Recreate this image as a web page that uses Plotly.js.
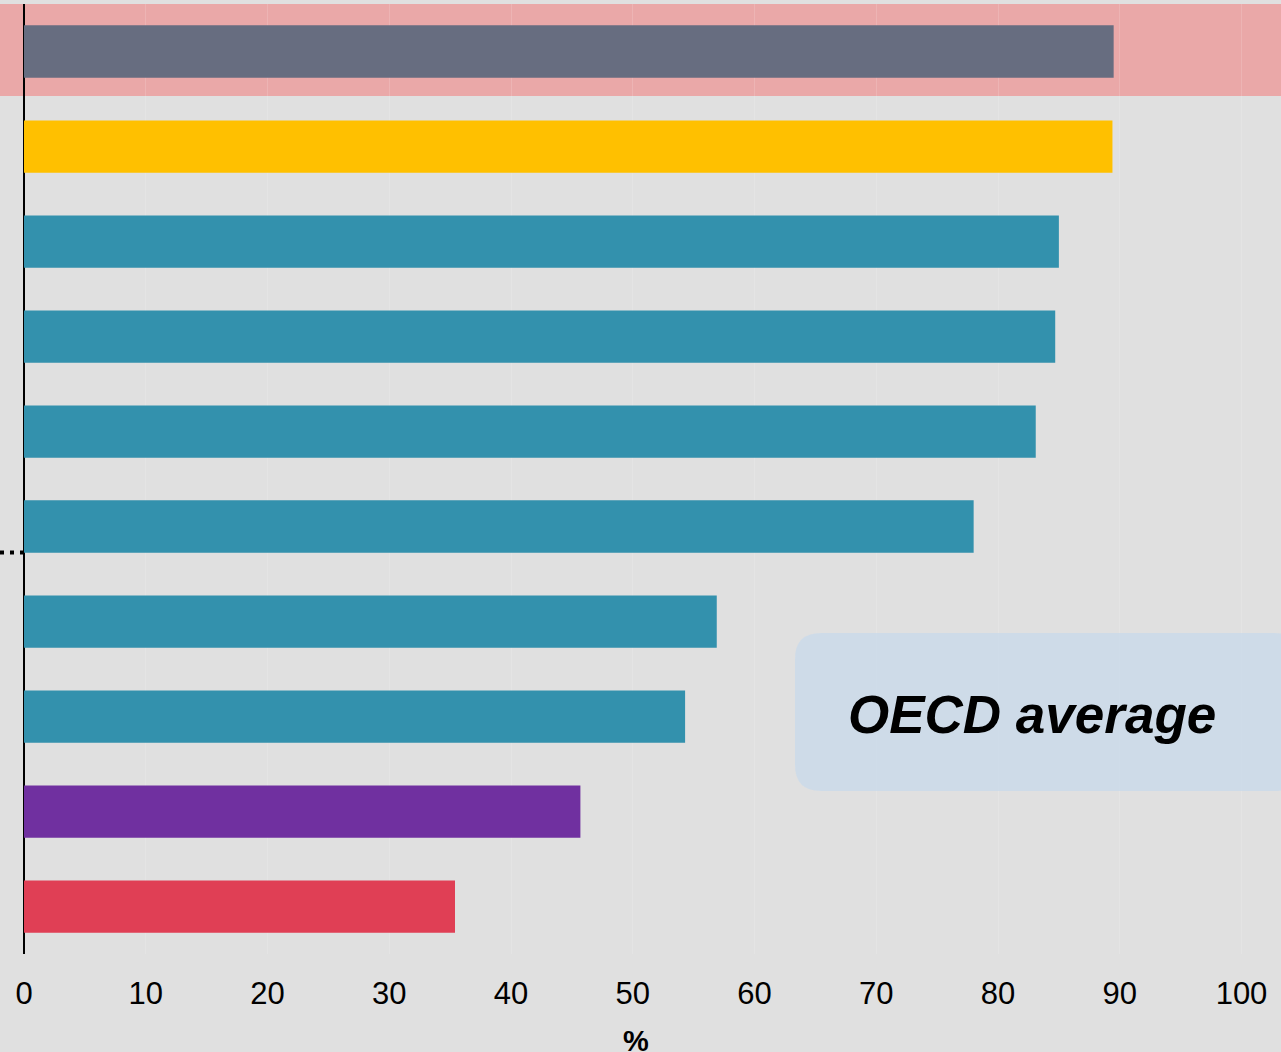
<!DOCTYPE html>
<html>
<head>
<meta charset="utf-8">
<script src="https://cdn.plot.ly/plotly-3.0.1.min.js"></script>
<style>html,body{margin:0;padding:0;background:#e0e0e0;}#chart{width:1281px;height:1052px;}</style>
</head>
<body>
<div id="chart"></div>
<script>
// Data (top to bottom)
var categories = ["Item 1","Item 2","Item 3","Item 4","Item 5","Item 6","Item 7","Item 8","Item 9","Item 10"];
var values = [89.5, 89.4, 85.0, 84.7, 83.1, 78.0, 56.9, 54.3, 45.7, 35.4];
var barColors = ["#676d80","#ffc000","#3391ad","#3391ad","#3391ad","#3391ad","#3391ad","#3391ad","#7030a0","#e03f55"];
var xTickVals = [0,10,20,30,40,50,60,70,80,90,100];
var xTitle = "%";
var boxLabel = "OECD average";

var W = 1281, H = 1052;
var mL = 24, mR = 0, mT = 4, mB = 98;
var pw = W - mL - mR, ph = H - mT - mB;
function px(x){ return (x - mL) / pw; }
function py(y){ return (H - mB - y) / ph; }

// rounded box path in paper coords
var bx0 = 795, bx1 = 1300, by0 = 633, by1 = 791, r = 26;
function P(x,y){ return px(x) + "," + py(y); }
var boxPath = "M" + P(bx0 + r, by0) + " L" + P(bx1 - r, by0) + " Q" + P(bx1, by0) + " " + P(bx1, by0 + r) +
  " L" + P(bx1, by1 - r) + " Q" + P(bx1, by1) + " " + P(bx1 - r, by1) +
  " L" + P(bx0 + r, by1) + " Q" + P(bx0, by1) + " " + P(bx0, by1 - r) +
  " L" + P(bx0, by0 + r) + " Q" + P(bx0, by0) + " " + P(bx0 + r, by0) + " Z";

var trace = {
  type: "bar",
  orientation: "h",
  y: categories,
  x: values,
  width: 0.55,
  marker: {color: barColors, line: {width: 0}},
  hoverinfo: "x+y"
};

var layout = {
  width: W, height: H,
  margin: {l: mL, r: mR, t: mT, b: mB},
  paper_bgcolor: "#e0e0e0",
  plot_bgcolor: "rgba(0,0,0,0)",
  showlegend: false,
  font: {family: "Liberation Sans, Arial, sans-serif", color: "#000"},
  xaxis: {
    range: [0, pw / 12.175],
    tickvals: xTickVals,
    ticktext: xTickVals.map(String),
    tickfont: {size: 31, color: "#000"},
    showgrid: true,
    gridcolor: "rgba(255,255,255,0.14)",
    gridwidth: 1,
    zeroline: true,
    zerolinecolor: "#000",
    zerolinewidth: 2.5,
    ticks: "",
    ticklabelstandoff: 18,
    fixedrange: true
  },
  yaxis: {
    autorange: "reversed",
    showticklabels: false,
    showgrid: false,
    zeroline: false,
    ticks: "",
    fixedrange: true
  },
  shapes: [
    {type: "rect", xref: "paper", yref: "paper", layer: "below",
     x0: px(0), x1: px(W), y0: py(96), y1: py(4),
     fillcolor: "#eaa8a8", line: {width: 0}},
    {type: "path", xref: "paper", yref: "paper", layer: "above",
     path: boxPath, fillcolor: "rgba(200,218,235,0.75)", line: {width: 0}},
    {type: "line", xref: "paper", yref: "paper", layer: "above",
     x0: px(0), x1: px(23), y0: py(552.5), y1: py(552.5),
     line: {color: "#000", width: 4, dash: "4px,6px"}}
  ],
  annotations: [
    {xref: "paper", yref: "paper", x: px(1032), y: py(714), xanchor: "center", yanchor: "middle",
     text: "<b><i>" + boxLabel + "</i></b>", showarrow: false,
     font: {size: 53, color: "#000", family: "Liberation Sans, Arial, sans-serif"}},
    {xref: "paper", yref: "paper", x: px(636), y: py(1041), xanchor: "center", yanchor: "middle",
     text: "<b>" + xTitle + "</b>", showarrow: false,
     font: {size: 29, color: "#000", family: "Liberation Sans, Arial, sans-serif"}}
  ]
};

Plotly.newPlot("chart", [trace], layout, {displayModeBar: false, staticPlot: true});
</script>
</body>
</html>
